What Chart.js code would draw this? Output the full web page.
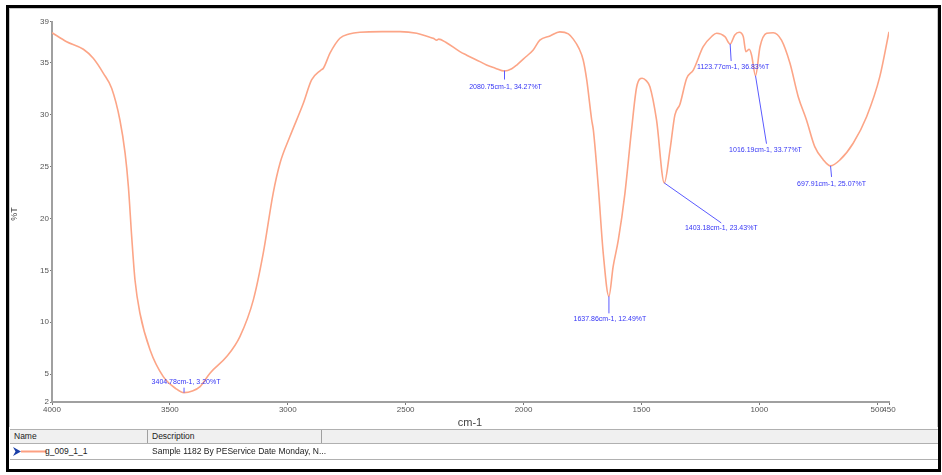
<!DOCTYPE html>
<html><head><meta charset="utf-8">
<script src="https://cdn.jsdelivr.net/npm/chart.js@4/dist/chart.umd.min.js"></script>
<style>
html,body{margin:0;padding:0;background:#fff;}
#wrap{position:relative;width:942px;height:475px;overflow:hidden;background:#fff;font-family:"Liberation Sans",Arial,sans-serif;}
#frame{position:absolute;left:6px;top:5px;width:929px;height:461px;border:3px solid #000;}
#panel{position:absolute;left:9px;top:8px;width:927px;height:418px;border-left:1px solid #c8c8c8;border-top:1px solid #c8c8c8;border-right:1px solid #c8c8c8;}
canvas{position:absolute;left:0;top:0;}
#hdr{position:absolute;left:10px;top:429px;width:928px;height:13px;background:#f0f0f0;border-top:1px solid #b0b0b0;border-bottom:1px solid #b0b0b0;font-size:8.5px;color:#222;}
#row{position:absolute;left:10px;top:444px;width:928px;height:15px;background:#fff;border-bottom:1px solid #b0b0b0;font-size:8.5px;color:#222;}
.c{position:absolute;top:0;height:100%;line-height:13px;white-space:nowrap;}
.sep{position:absolute;top:0;width:1px;height:100%;background:#a0a0a0;}
</style></head>
<body>
<div id="wrap">
  <div id="panel"></div>
  <canvas id="c" width="942" height="428"></canvas>
  <div id="hdr">
    <div class="c" style="left:4px;">Name</div>
    <div class="sep" style="left:137px;"></div>
    <div class="c" style="left:142px;">Description</div>
    <div class="sep" style="left:311px;"></div>
  </div>
  <div id="row">
    <svg style="position:absolute;left:3px;top:3px" width="34" height="10">
      <polygon points="0,0 8,4.5 0,9 2.5,4.5" fill="#1a3fa8"/>
      <line x1="8" y1="4.5" x2="34" y2="4.5" stroke="#fca082" stroke-width="2"/>
    </svg>
    <div class="c" style="left:35px;line-height:15px;">g_009_1_1</div>
    <div class="c" style="left:142px;line-height:15px;">Sample 1182 By PEService Date Monday, N...</div>
  </div>
  <div id="frame"></div>
</div>
<script>
// ---- data ----
const wavenumbers = [4000,3938,3867,3825,3782,3747,3712,3690,3676,3662,3648,3627,3584,3528,3475,3440,3405,3372,3330,3259,3203,3146,3104,3062,3033,2991,2934,2899,2860,2849,2821,2779,2740,2694,2600,2524,2453,2400,2383,2368,2360,2330,2270,2241,2185,2157,2120,2081,2050,2029,1990,1959,1931,1888,1846,1810,1789,1765,1747,1732,1711,1704,1683,1662,1638,1620,1598,1570,1542,1520,1497,1480,1464,1436,1403,1379,1358,1337,1308,1280,1238,1200,1181,1146,1124,1104,1085,1068,1057,1043,1033,1016,997,969,941,906,870,835,800,765,730,698,658,602,545,489,450];
const transmittance = [37.92,37.05,36.32,35.45,34.0,32.56,29.5,26.3,23.07,18.25,14.07,10.86,7.32,4.75,3.6,3.2,3.35,3.78,5.08,6.68,8.61,12.15,16.65,22.43,25.33,27.9,31.11,33.36,34.3,34.49,35.94,37.38,37.8,37.97,38.02,38.02,37.86,37.5,37.38,37.2,37.3,37.0,36.09,35.75,35.13,34.81,34.5,34.22,34.45,34.8,35.6,36.25,37.2,37.6,38.0,37.8,37.3,36.4,35.29,33.36,29.5,28.54,23.07,16.65,12.49,15.36,17.93,22.43,28.54,32.71,33.52,33.3,32.71,29.5,23.43,26.6,30.0,31.0,33.52,34.32,36.57,37.6,37.86,37.54,36.83,37.7,37.96,37.54,36.09,36.32,35.77,33.77,36.57,37.86,37.92,37.2,34.97,31.75,29.5,26.93,25.7,25.07,25.65,27.26,29.82,33.68,38.0];
const xTickValues = [4000,3500,3000,2500,2000,1500,1000,500,450];
const yTickValues = [2,5,10,15,20,25,30,35,39];
const peakWave = [3440,2080.75,1637.86,1403.18,1123.77,1016.19,697.91];
const peakT = [3.20,34.27,12.49,23.43,36.83,33.77,25.07];
const peakLabels = ["3404.78cm-1, 3.20%T","2080.75cm-1, 34.27%T","1637.86cm-1, 12.49%T","1403.18cm-1, 23.43%T","1123.77cm-1, 36.83%T","1016.19cm-1, 33.77%T","697.91cm-1, 25.07%T"];
const seriesName = "g_009_1_1";
const xTitle = "cm-1";
const yTitle = "%T";

// ---- label placement (pixels: line end dx,dy ; text center dx,dy) ----
const labelOffsets = [[0,-5,2,-11],[0,9,1,17],[0,17,1,23],[57,40,57,45],[1,17,3,23],[11,68,10,74],[1,11,1,18]];

const annotPlugin = {
  id: 'annot',
  afterDatasetsDraw(chart) {
    const ctx = chart.ctx, xs = chart.scales.x, ys = chart.scales.y;
    ctx.save();
    ctx.font = '7px "Liberation Sans", Arial, sans-serif';
    ctx.textAlign = 'center';
    ctx.textBaseline = 'middle';
    peakWave.forEach((w, i) => {
      const px = xs.getPixelForValue(w), py = ys.getPixelForValue(peakT[i]);
      const o = labelOffsets[i];
      ctx.strokeStyle = '#5a5aff';
      ctx.lineWidth = 1;
      ctx.beginPath();
      ctx.moveTo(px, py);
      ctx.lineTo(px + o[0], py + o[1]);
      ctx.stroke();
      ctx.fillStyle = '#3535f5';
      ctx.fillText(peakLabels[i], px + o[2], py + o[3]);
    });
    // axis titles
    ctx.fillStyle = '#444';
    ctx.font = '11px "Liberation Sans", Arial, sans-serif';
    ctx.fillText(xTitle, 470, 423);
    ctx.save();
    ctx.translate(15, 214);
    ctx.rotate(-Math.PI / 2);
    ctx.font = '9px "Liberation Sans", Arial, sans-serif';
    ctx.fillText(yTitle, 0, 0);
    ctx.restore();
    ctx.restore();
  }
};

new Chart(document.getElementById('c'), {
  type: 'line',
  data: {
    datasets: [{
      label: seriesName,
      data: wavenumbers.map((w, i) => ({x: w, y: transmittance[i]})),
      borderColor: '#fca587',
      borderWidth: 1.6,
      pointRadius: 0,
      fill: false,
      cubicInterpolationMode: 'monotone'
    }]
  },
  options: {
    responsive: false,
    animation: false,
    devicePixelRatio: 1,
    layout: {padding: {left: 22, right: 53, top: 21.5, bottom: 0}},
    plugins: {legend: {display: false}, tooltip: {enabled: false}},
    scales: {
      x: {
        type: 'linear', reverse: true, min: 450, max: 4000,
        afterBuildTicks: s => { s.ticks = xTickValues.map(v => ({value: v})); },
        afterFit: s => { s.height = 26; },
        border: {color: '#a0a0a0', width: 2},
        grid: {drawOnChartArea: false, drawTicks: true, tickLength: 3, color: '#777'},
        ticks: {autoSkip: false, maxRotation: 0, padding: 0, color: '#555',
                callback: v => String(v),
                font: {size: 8, family: '"Liberation Sans", Arial, sans-serif'}}
      },
      y: {
        type: 'linear', min: 2.3, max: 39,
        afterBuildTicks: s => { s.ticks = yTickValues.map(v => ({value: Math.max(v, s.min)})); },
        afterFit: s => { s.width = 30; },
        border: {color: '#a0a0a0', width: 2},
        grid: {drawOnChartArea: false, drawTicks: true, tickLength: 2, color: '#777'},
        ticks: {padding: 1, color: '#555', callback: v => String(Math.round(v)),
                font: {size: 8, family: '"Liberation Sans", Arial, sans-serif'}}
      }
    }
  },
  plugins: [annotPlugin]
});
</script>
</body></html>
